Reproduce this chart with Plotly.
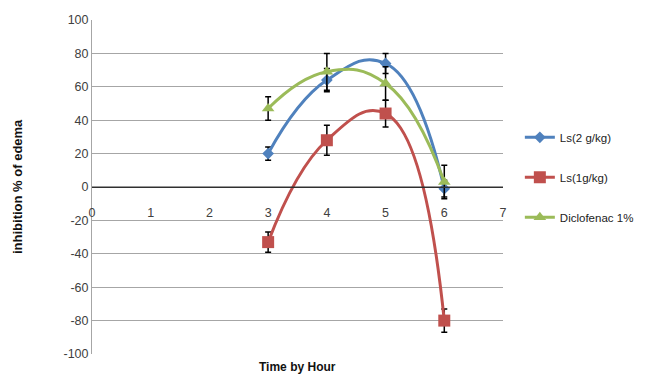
import plotly.graph_objects as go

hours = [3, 4, 5, 6]
ls2 = [20, 64, 74, -1]
ls2_err = [4, 7, 6, 5]
ls1 = [-33, 28, 44, -80]
ls1_err = [6, 9, 8, 7]
diclo = [47, 69, 62, 3]
diclo_err = [7, 11, 10, 10]
names = ["Ls(2 g/kg)", "Ls(1g/kg)", "Diclofenac 1%"]
y_ticks = [-100, -80, -60, -40, -20, 0, 20, 40, 60, 80, 100]
y_tick_labels = [str(v) for v in y_ticks]
x_ticks = [0, 1, 2, 3, 4, 5, 6, 7]

colors = ["#4F81BD", "#C0504D", "#9BBB59"]
symbols = ["diamond", "square", "triangle-up"]
sizes = [9, 12, 11]

font = "Liberation Sans"
fig = go.Figure()
for i, (vals, errs) in enumerate([(ls2, ls2_err), (ls1, ls1_err), (diclo, diclo_err)]):
    fig.add_trace(go.Scatter(
        x=hours, y=vals, name=names[i], mode="lines+markers",
        line=dict(color=colors[i], width=3, shape="spline", smoothing=1.3),
        marker=dict(symbol=symbols[i], size=sizes[i], color=colors[i]),
        error_y=dict(type="data", array=errs, color="black", thickness=1.5, width=3),
        legendgroup=str(i),
    ))

fig.update_layout(
    width=645, height=375,
    margin=dict(l=84, r=150, t=12, b=29, autoexpand=False),
    paper_bgcolor="white", plot_bgcolor="white",
    font=dict(family=font, size=12.5, color="#404040"),
    showlegend=True,
    legend=dict(x=1.041, y=0.692, xanchor="left", yanchor="top",
                font=dict(size=11.5, color="#222"), tracegroupgap=21,
                bgcolor="rgba(0,0,0,0)"),
    xaxis=dict(range=[0, 7], tickvals=x_ticks, anchor="free", position=0.5,
               showgrid=False, zeroline=False, showline=True, linecolor="#303030",
               linewidth=1, ticks="outside", ticklen=14, tickcolor="rgba(0,0,0,0)",
               tickfont=dict(size=12.5, color="#404040")),
    yaxis=dict(range=[-100, 100], tickvals=y_ticks, ticktext=y_tick_labels,
               showgrid=True, gridcolor="#A6A6A6",
               gridwidth=1, zeroline=False, showline=True, linecolor="#A6A6A6",
               ticks="", tickfont=dict(size=12.5, color="#404040")),
    annotations=[
        dict(text="<b>Time by Hour</b>", x=0.5, y=0.0, xref="paper", yref="paper",
             xanchor="center", yanchor="top", yshift=-4, showarrow=False,
             font=dict(size=12, color="#111")),
        dict(text="<b>inhibition % of edema</b>", x=0, y=0.5, xref="paper", yref="paper",
             xanchor="center", yanchor="middle", xshift=-75, textangle=-90, showarrow=False,
             font=dict(size=13, color="#111")),
    ],
)
fig.add_hline(y=0, line=dict(color="#303030", width=1))
fig.write_html("out.html")
